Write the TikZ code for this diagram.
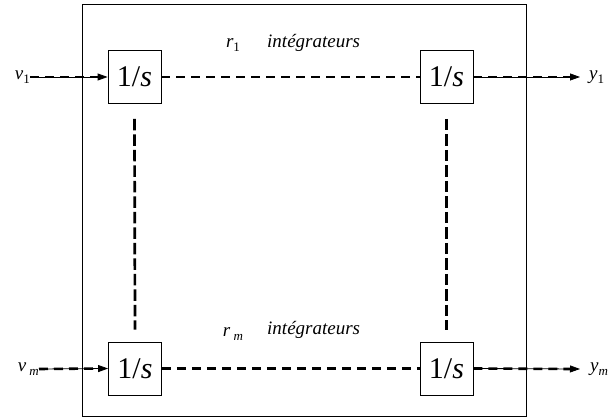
\documentclass[tikz,border=0pt]{standalone}
\usepackage{fontspec}
\setmainfont{Liberation Serif}
\usetikzlibrary{arrows.meta}
\newcommand{\lowsub}[1]{\raisebox{-0.2em}{\fontsize{13}{13}\selectfont #1}}
\tikzset{
  intbox/.style={draw, line width=0.8pt, minimum width=53pt, minimum height=53pt, inner sep=0pt, font=\fontsize{30}{30}\selectfont},
  lbl/.style={inner sep=0pt, font=\fontsize{19}{19}\selectfont},
  dsh/.style={line width=2.6pt, dash pattern=on 9pt off 6pt},
  vdsh/.style={line width=2.7pt, dash pattern=on 11.5pt off 4pt},
  thinarrow/.style={line width=0.8pt, -{Triangle[length=10pt, width=7pt]}}
}
\begin{document}
\begin{tikzpicture}[x=1pt, y=-1pt]
\useasboundingbox (0,0) rectangle (608,419);
\node[draw, line width=0.9pt, minimum width=444pt, minimum height=412pt, inner sep=0pt] (frame) at (304,210) {};
\node[intbox] (a) at (134.5,77) {1/\textit{s}};
\node[intbox] (b) at (446.5,77) {1/\textit{s}};
\node[intbox] (c) at (135,368.5) {1/\textit{s}};
\node[intbox] (d) at (446.5,368.5) {1/\textit{s}};
\node[lbl, anchor=east] (v1) at (30,77) {\textit{v}\lowsub{1}};
\node[lbl, anchor=east] (vm) at (39,369) {\textit{v}\,\lowsub{\textit{m}}};
\node[lbl, anchor=west] (y1) at (589,77) {\textit{y}\lowsub{1}};
\node[lbl, anchor=west] (ym) at (590,369) {\textit{y}\lowsub{\textit{m}}};
\node[lbl] (r1) at (233,45) {\textit{r}\lowsub{1}};
\node[lbl, anchor=west] (t1) at (267,43) {\textit{intégrateurs}};
\node[lbl] (rm) at (233,334) {\textit{r}\,\lowsub{\textit{m}}};
\node[lbl, anchor=west] (t2) at (267,330) {\textit{intégrateurs}};
\coordinate (o1) at (580,77);
\coordinate (om) at (580,369);
% inputs
\draw[thinarrow] (v1.east) -- (a.west);
\draw[dsh] (v1.east) -- ([xshift=-9pt]a.west);
\draw[thinarrow] (vm.east) -- (c.west);
\draw[dsh] (vm.east) -- ([xshift=-9pt]c.west);
% outputs
\draw[thinarrow] (b.east) -- (o1);
\draw[dsh] (b.east) -- ([xshift=-9pt]o1);
\draw[thinarrow] (d.east) -- (om);
\draw[dsh] (d.east) -- ([xshift=-9pt]om);
% chains
\draw[dsh] (a.east) -- (b.west);
\draw[dsh] (c.east) -- (d.west);
\draw[vdsh] ([yshift=-15pt]a.south) -- ([yshift=12pt]c.north);
\draw[vdsh] ([yshift=-15pt]b.south) -- ([yshift=12pt]d.north);
\end{tikzpicture}
\end{document}
